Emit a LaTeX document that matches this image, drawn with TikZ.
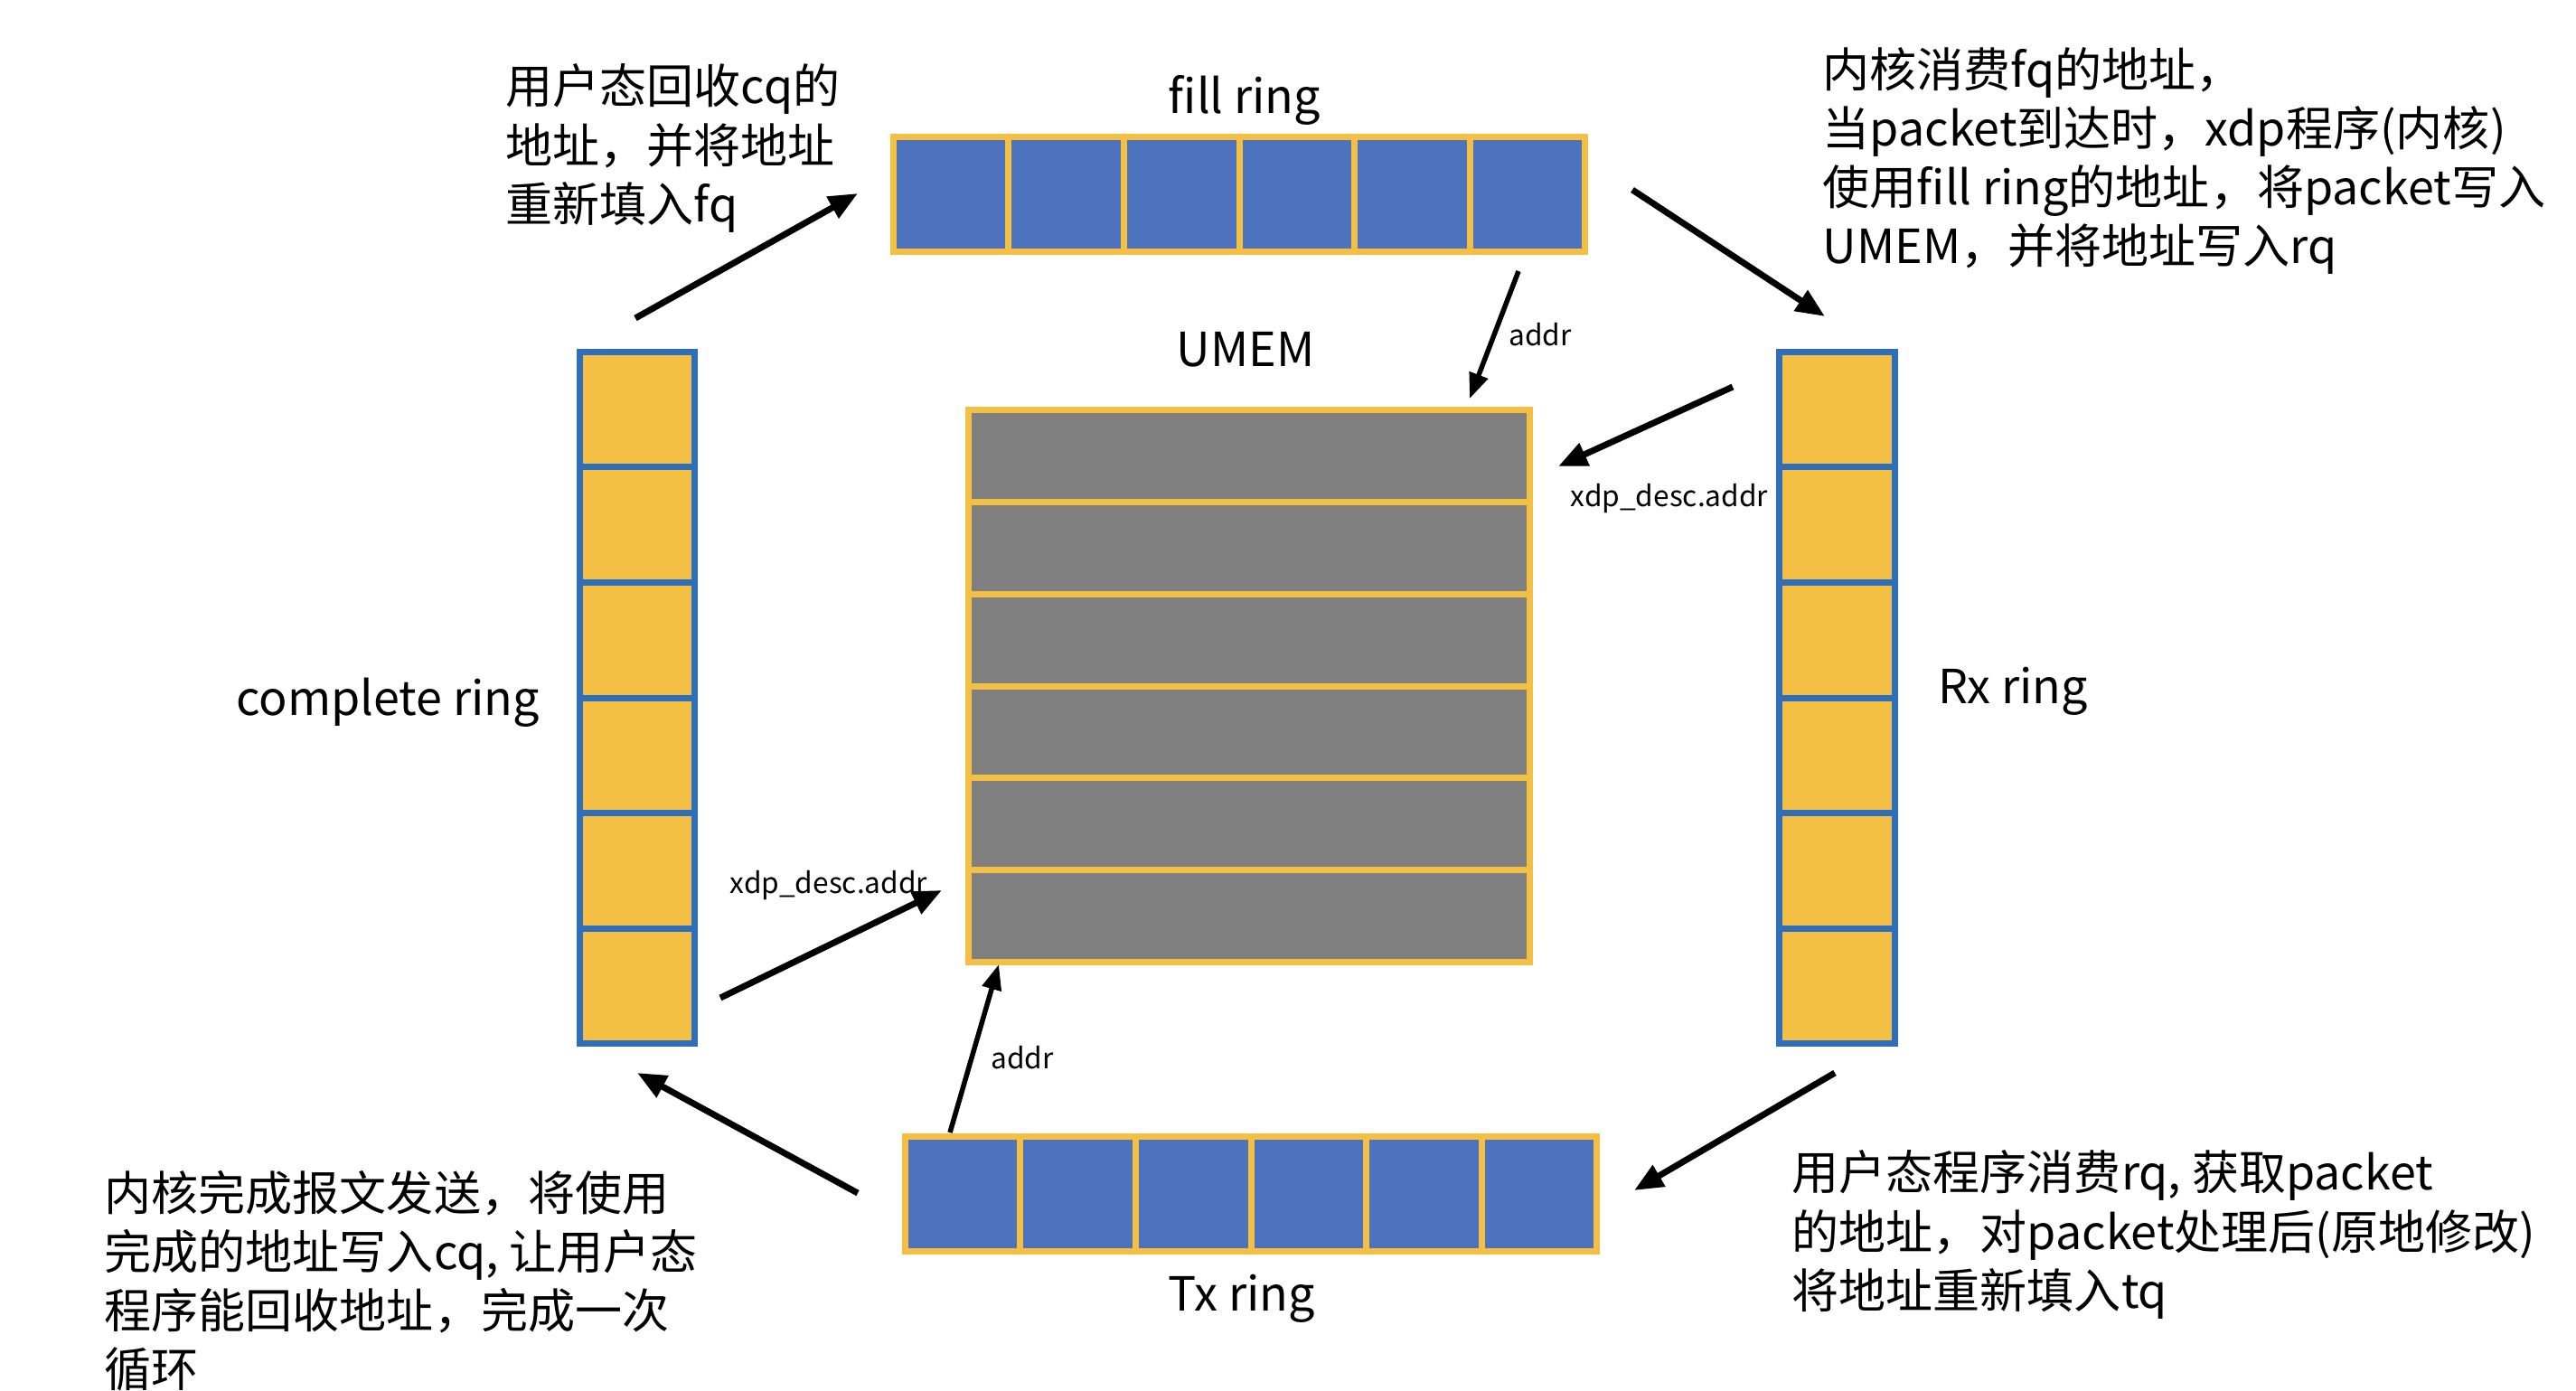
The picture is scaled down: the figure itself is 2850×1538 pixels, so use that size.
\documentclass[tikz,border=0pt]{standalone}
\usepackage{fontspec}
\setmainfont{Noto Sans CJK SC}
\usetikzlibrary{arrows.meta,calc}
\definecolor{ringorange}{HTML}{F4C043}
\definecolor{cellblue}{HTML}{4E73BE}
\definecolor{edgeblue}{HTML}{2F6EBA}
\definecolor{memgray}{HTML}{808080}
\begin{document}
\begin{tikzpicture}[x=0.01cm,y=-0.01cm,
  hring/.style={draw=ringorange, fill=cellblue, line width=0.07cm, minimum width=7.65cm, minimum height=1.27cm, inner sep=0pt, outer sep=0pt},
  vring/.style={draw=edgeblue, fill=ringorange, line width=0.07cm, minimum width=1.27cm, minimum height=7.65cm, inner sep=0pt, outer sep=0pt},
  umem/.style={draw=ringorange, fill=memgray, line width=0.07cm, minimum width=6.21cm, minimum height=6.11cm, inner sep=0pt, outer sep=0pt},
  odiv/.style={draw=ringorange, line width=0.07cm},
  bdiv/.style={draw=edgeblue, line width=0.07cm},
  bigtxt/.style={font=\fontsize{14.8pt}{18.5pt}\selectfont, inner sep=0pt},
  note/.style={font=\fontsize{14.8pt}{18.5pt}\selectfont, inner sep=0pt, align=left, anchor=west},
  smalltxt/.style={font=\fontsize{9pt}{10.5pt}\selectfont, inner sep=0pt},
  arr/.style={-{Triangle[length=0.32cm,width=0.26cm]}, line width=0.07cm},
  thinarr/.style={-{Triangle[length=0.28cm,width=0.21cm]}, line width=0.055cm}
]
\useasboundingbox[fill=white] (0,0) rectangle (2850,1538);

% rings
\node[hring] (fill) at (1371,215) {};
\node[hring] (tx) at (1384,1321) {};
\node[vring] (cring) at (705,772) {};
\node[vring] (rx) at (2032.5,772) {};
\node[umem] (mem) at (1382,759) {};

\foreach \k in {1,...,5} {
  \draw[odiv] ($(fill.north west)!\k/6!(fill.north east)$) -- ($(fill.south west)!\k/6!(fill.south east)$);
  \draw[odiv] ($(tx.north west)!\k/6!(tx.north east)$) -- ($(tx.south west)!\k/6!(tx.south east)$);
  \draw[odiv] ($(mem.north west)!\k/6!(mem.south west)$) -- ($(mem.north east)!\k/6!(mem.south east)$);
  \draw[bdiv] ($(cring.north west)!\k/6!(cring.south west)$) -- ($(cring.north east)!\k/6!(cring.south east)$);
  \draw[bdiv] ($(rx.north west)!\k/6!(rx.south west)$) -- ($(rx.north east)!\k/6!(rx.south east)$);
}

% labels
\node[bigtxt] (lfill) at (1377,111) {fill ring};
\node[bigtxt] (lumem) at (1378,387) {UMEM};
\node[bigtxt] (lcring) at (429,777) {complete ring};
\node[bigtxt] (lrx) at (2227,765) {Rx ring};
\node[bigtxt] (ltx) at (1374,1437) {Tx ring};

\node[smalltxt] (la1) at (1704,370) {addr};
\node[smalltxt] (la2) at (1847,552) {xdp\_desc.addr};
\node[smalltxt] (la3) at (917,980) {xdp\_desc.addr};
\node[smalltxt] (la4) at (1131,1170) {addr};

% notes
\node[note] (n1) at (559,164) {用户态回收cq的\\地址，并将地址\\重新填入fq};
\node[note] (n2) at (2016,178) {内核消费fq的地址，\\当packet到达时，xdp程序(内核)\\使用fill ring的地址，将packet写入\\UMEM，并将地址写入rq};
\node[note] (n3) at (115,1417) {内核完成报文发送，将使用\\完成的地址写入cq, 让用户态\\程序能回收地址，完成一次\\循环};
\node[note] (n4) at (1982,1366) {用户态程序消费rq, 获取packet\\的地址，对packet处理后(原地修改)\\将地址重新填入tq};

% arrow end points
\coordinate (c2fS) at (703,352);  \coordinate (c2fE) at (949,214);
\coordinate (f2rS) at (1806,210); \coordinate (f2rE) at (2019,350);
\coordinate (r2tS) at (2030,1187); \coordinate (r2tE) at (1808,1317);
\coordinate (t2cS) at (949,1320); \coordinate (t2cE) at (705,1187);
\coordinate (f2mS) at (1680,300); \coordinate (f2mE) at (1626,441);
\coordinate (r2mS) at (1917,428); \coordinate (r2mE) at (1724,516);
\coordinate (c2mS) at (797,1104); \coordinate (c2mE) at (1042,985);
\coordinate (t2mS) at (1051,1253); \coordinate (t2mE) at (1105,1067);

\draw[arr] (c2fS) -- (c2fE);
\draw[arr] (f2rS) -- (f2rE);
\draw[arr] (r2tS) -- (r2tE);
\draw[arr] (t2cS) -- (t2cE);
\draw[thinarr] (f2mS) -- (f2mE);
\draw[arr] (r2mS) -- (r2mE);
\draw[arr] (c2mS) -- (c2mE);
\draw[thinarr] (t2mS) -- (t2mE);
\end{tikzpicture}
\end{document}
